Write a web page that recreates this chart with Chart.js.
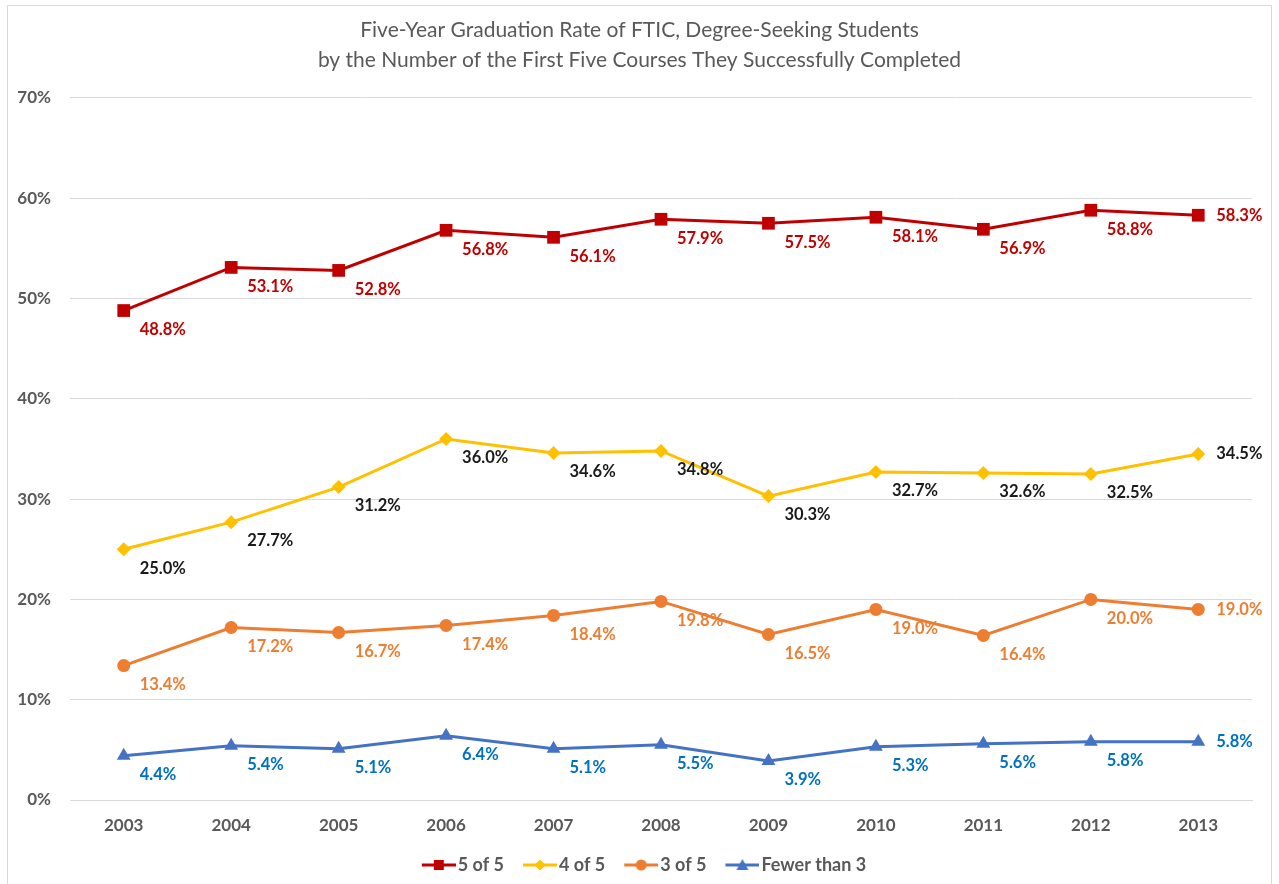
<!DOCTYPE html>
<html>
<head>
<meta charset="utf-8">
<title>Five-Year Graduation Rate</title>
<script src="https://cdn.jsdelivr.net/npm/chart.js@4/dist/chart.umd.min.js"></script>
<style>
  html, body { margin: 0; padding: 0; background: #fff; overflow: hidden; }
  #wrap { position: relative; width: 1279px; height: 884px; }
  #frame { position: absolute; left: 7px; top: 5px; width: 1263px; height: 900px; border: 1px solid #d9d9d9; pointer-events: none; }
  canvas { position: absolute; left: 0; top: 0; }
</style>
</head>
<body>
<div id="wrap">
  <canvas id="gradChart" width="1279" height="884"></canvas>
  <div id="frame"></div>
</div>
<script>
// Chart data (percent)
const years = ['2003', '2004', '2005', '2006', '2007', '2008', '2009', '2010', '2011', '2012', '2013'];
const fiveOfFive = [48.8, 53.1, 52.8, 56.8, 56.1, 57.9, 57.5, 58.1, 56.9, 58.8, 58.3];
const fourOfFive = [25.0, 27.7, 31.2, 36.0, 34.6, 34.8, 30.3, 32.7, 32.6, 32.5, 34.5];
const threeOfFive = [13.4, 17.2, 16.7, 17.4, 18.4, 19.8, 16.5, 19.0, 16.4, 20.0, 19.0];
const fewerThanThree = [4.4, 5.4, 5.1, 6.4, 5.1, 5.5, 3.9, 5.3, 5.6, 5.8, 5.8];
const yTicks = [0, 10, 20, 30, 40, 50, 60, 70];

const FONT = 'Lato, "Open Sans", sans-serif';
const GREY = '#595959';
const LEGEND_SIZE = 18;

const series = [
  { label: '5 of 5', data: fiveOfFive, color: '#C00000', labelColor: '#C00000', style: 'rect', radius: 9 },
  { label: '4 of 5', data: fourOfFive, color: '#FFC000', labelColor: '#1a1a1a', style: 'rectRot', radius: 7 },
  { label: '3 of 5', data: threeOfFive, color: '#ED7D31', labelColor: '#ED7D31', style: 'circle', radius: 6.5 },
  { label: 'Fewer than 3', data: fewerThanThree, color: '#4472C4', labelColor: '#0070C0', style: 'triangle', radius: 8 }
];

// legend icon: 34px line with marker, placed so it ends 2px before the text
const LINE_LEN = 34;
const BOX_W = 36;
const ICON_W = 2 * (BOX_W / 2 + LEGEND_SIZE / 2 - 2);
const legendIcon = (s) => {
  const c = document.createElement('canvas');
  c.width = Math.ceil(ICON_W); c.height = 14;
  const ctx = c.getContext('2d');
  const x1 = ICON_W, x0 = x1 - LINE_LEN, mx = (x0 + x1) / 2;
  ctx.strokeStyle = s.color;
  ctx.fillStyle = s.color;
  ctx.lineWidth = 3;
  ctx.beginPath(); ctx.moveTo(x0, 7); ctx.lineTo(x1, 7); ctx.stroke();
  ctx.beginPath();
  if (s.style === 'rect') ctx.rect(mx - 5, 2, 10, 10);
  else if (s.style === 'rectRot') { ctx.moveTo(mx, 1.5); ctx.lineTo(mx + 5.5, 7); ctx.lineTo(mx, 12.5); ctx.lineTo(mx - 5.5, 7); ctx.closePath(); }
  else if (s.style === 'circle') ctx.arc(mx, 7, 5.5, 0, Math.PI * 2);
  else { ctx.moveTo(mx, 1); ctx.lineTo(mx + 6, 12); ctx.lineTo(mx - 6, 12); ctx.closePath(); }
  ctx.fill();
  return c;
};
const icons = series.map(legendIcon);

// value labels to the lower right of each point, last one to the right
const pointLabels = {
  id: 'pointLabels',
  afterDatasetsDraw(chart) {
    const { ctx } = chart;
    ctx.save();
    ctx.font = 'bold 16.5px ' + FONT;
    ctx.textBaseline = 'middle';
    ctx.textAlign = 'left';
    chart.data.datasets.forEach((ds, i) => {
      const meta = chart.getDatasetMeta(i);
      ctx.fillStyle = series[i].labelColor;
      meta.data.forEach((pt, j) => {
        const last = j === ds.data.length - 1;
        ctx.fillText(ds.data[j].toFixed(1) + '%', pt.x + (last ? 18 : 16), pt.y + (last ? 0 : 19));
      });
    });
    ctx.restore();
  }
};

const ctx = document.getElementById('gradChart').getContext('2d');
new Chart(ctx, {
  type: 'line',
  data: {
    labels: years,
    datasets: series.map(s => ({
      label: s.label,
      data: s.data,
      borderColor: s.color,
      backgroundColor: s.color,
      borderWidth: 3,
      pointStyle: s.style,
      pointRadius: s.radius,
      pointBorderWidth: 0,
      tension: 0,
      fill: false
    }))
  },
  options: {
    responsive: false,
    animation: false,
    layout: { padding: { left: 0, right: 0, top: 0, bottom: 0 } },
    plugins: {
      tooltip: { enabled: false },
      title: {
        display: true,
        text: ['Five-Year Graduation Rate of FTIC, Degree-Seeking Students',
               'by the Number of the First Five Courses They Successfully Completed'],
        color: GREY,
        font: { family: FONT, size: 21, weight: 'normal', lineHeight: 1.45 },
        padding: { top: 15, bottom: 22 }
      },
      legend: {
        position: 'bottom',
        labels: {
          usePointStyle: true,
          pointStyleWidth: BOX_W,
          padding: 10,
          color: GREY,
          font: { family: FONT, size: LEGEND_SIZE, weight: 'bold' },
          generateLabels: (chart) => chart.data.datasets.map((ds, i) => ({
            text: ds.label,
            pointStyle: icons[i],
            fillStyle: ds.borderColor,
            strokeStyle: ds.borderColor,
            lineWidth: 0,
            fontColor: GREY,
            hidden: false,
            datasetIndex: i
          }))
        }
      }
    },
    scales: {
      x: {
        offset: true,
        grid: { display: false, drawTicks: false },
        border: { color: '#d9d9d9', width: 1 },
        ticks: { color: GREY, padding: 15, font: { family: FONT, size: 17, weight: 'bold' } },
        afterFit: (scale) => { scale.height = 46; }
      },
      y: {
        min: 0,
        max: 70,
        afterBuildTicks: (scale) => { scale.ticks = yTicks.map(v => ({ value: v })); },
        grid: { color: '#d9d9d9', lineWidth: 1, drawTicks: false },
        border: { display: false },
        ticks: {
          color: GREY,
          padding: 19,
          font: { family: FONT, size: 17, weight: 'bold' },
          callback: (v) => v + '%'
        },
        afterFit: (scale) => { scale.width = 70; }
      },
      // empty right margin so the legend stays centred on the whole chart
      yRight: {
        position: 'right',
        min: 0,
        max: 70,
        grid: { display: false, drawTicks: false },
        border: { display: false },
        ticks: { display: false },
        afterFit: (scale) => { scale.width = 27; }
      }
    }
  },
  plugins: [pointLabels]
});
</script>
</body>
</html>
